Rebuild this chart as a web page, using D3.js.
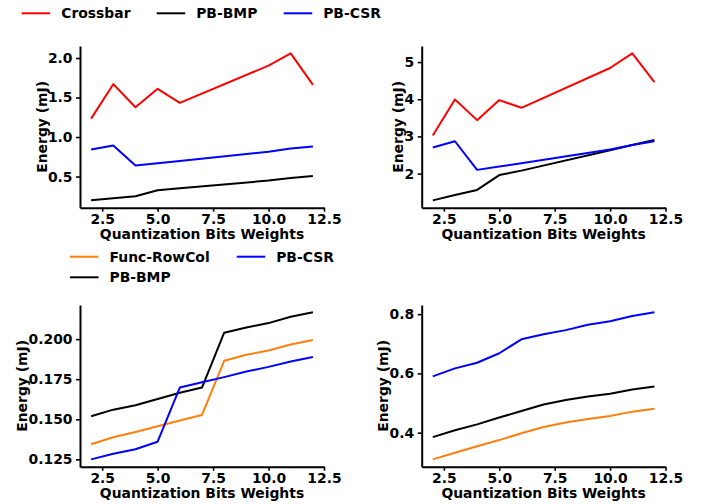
<!DOCTYPE html>
<html>
<head>
<meta charset="utf-8">
<script src="https://cdn.jsdelivr.net/npm/d3@7"></script>
<style>
  body { margin: 0; background: #fff; }
  svg { display: block; font-family: "DejaVu Sans", sans-serif; font-weight: bold; }
</style>
</head>
<body>
<script>
// Données
const bitsTop = [2, 3, 4, 5, 6, 10, 11, 12];
const bitsBottom = [2, 3, 4, 5, 6, 7, 8, 9, 10, 11, 12];

// haut gauche
const crossbarA = [1.233, 1.669, 1.377, 1.61, 1.432, 1.903, 2.059, 1.661];
const bmpA = [0.199, 0.225, 0.25, 0.326, 0.352, 0.449, 0.483, 0.508];
const csrA = [0.843, 0.894, 0.64, 0.669, 0.698, 0.814, 0.856, 0.881];

// haut droite
const crossbarB = [3.024, 3.995, 3.438, 3.977, 3.77, 4.84, 5.235, 4.462];
const bmpB = [1.28, 1.425, 1.56, 1.96, 2.08, 2.63, 2.77, 2.907];
const csrB = [2.70, 2.87, 2.10, 2.19, 2.28, 2.647, 2.77, 2.87];

// bas gauche
const rowcolC = [0.1344, 0.1388, 0.1421, 0.1456, 0.1492, 0.1527, 0.1865, 0.1902, 0.1929, 0.1967, 0.1994];
const bmpC = [0.1519, 0.156, 0.1588, 0.1627, 0.1665, 0.1698, 0.204, 0.2073, 0.210, 0.214, 0.2167];
const csrC = [0.125, 0.1285, 0.1313, 0.136, 0.1698, 0.1731, 0.1763, 0.1798, 0.1827, 0.186, 0.1888];

// bas droite
const rowcolD = [0.31, 0.332, 0.354, 0.375, 0.398, 0.419, 0.434, 0.446, 0.456, 0.471, 0.481];
const bmpD = [0.385, 0.408, 0.428, 0.451, 0.473, 0.495, 0.51, 0.522, 0.531, 0.546, 0.556];
const csrD = [0.590, 0.617, 0.636, 0.668, 0.715, 0.732, 0.746, 0.764, 0.776, 0.794, 0.806];

// ticks
const xTicks = [2.5, 5.0, 7.5, 10.0, 12.5];
const yTicksA = [0.5, 1.0, 1.5, 2.0];
const yTicksB = [2, 3, 4, 5];
const yTicksC = [0.125, 0.150, 0.175, 0.200];
const yTicksD = [0.4, 0.6, 0.8];

const legendTop = ["Crossbar", "PB-BMP", "PB-CSR"];
const legendBottom = ["Func-RowCol", "PB-CSR", "PB-BMP"];

const colors = {
  "Crossbar": "#ff0000",
  "PB-BMP": "#000000",
  "PB-CSR": "#0000ff",
  "Func-RowCol": "#ff7f0e"
};

const W = 702, H = 504;
const FS = 13.9;

const svg = d3.select("body").append("svg")
  .attr("width", W).attr("height", H);

// un panneau
function panel(box, xs, series, yTicks, yFmt) {
  const x = d3.scaleLinear().domain([1.5, 12.5]).range([box.x, box.x + box.w]);

  const all = series.flatMap(s => s.values);
  let lo = d3.min(all), hi = d3.max(all);
  const pad = (hi - lo) * 0.05;
  const y = d3.scaleLinear().domain([lo - pad, hi + pad]).range([box.y + box.h, box.y]);

  const g = svg.append("g");

  const line = d3.line()
    .x((d, i) => x(xs[i]))
    .y(d => y(d));

  series.forEach(s => {
    g.append("path")
      .datum(s.values)
      .attr("fill", "none")
      .attr("stroke", colors[s.name])
      .attr("stroke-width", 2)
      .attr("stroke-linejoin", "round")
      .attr("d", line);
  });

  // axe X
  const gx = g.append("g")
    .attr("transform", "translate(0," + (box.y + box.h) + ")")
    .call(d3.axisBottom(x).tickValues(xTicks).tickFormat(d3.format(".1f")).tickSize(4).tickPadding(2.5).tickSizeOuter(0));

  // axe Y
  const gy = g.append("g")
    .attr("transform", "translate(" + box.x + ",0)")
    .call(d3.axisLeft(y).tickValues(yTicks).tickFormat(d3.format(yFmt)).tickSize(4).tickPadding(3.5).tickSizeOuter(0));

  [gx, gy].forEach(a => {
    a.select(".domain").attr("stroke", "#000").attr("stroke-width", 2);
    a.selectAll(".tick line").attr("stroke", "#000").attr("stroke-width", 1.6);
    a.selectAll(".tick text")
      .attr("fill", "#000")
      .style("font-size", FS + "px")
      .style("font-family", "DejaVu Sans")
      .style("font-weight", "bold");
  });

  // labels
  g.append("text")
    .attr("x", box.x + box.w / 2)
    .attr("y", box.y + box.h + 31.5)
    .attr("text-anchor", "middle")
    .style("font-size", FS + "px")
    .text("Quantization Bits Weights");

  let minLeft = box.x;
  gy.selectAll(".tick text").each(function () {
    const b = this.getBBox();
    const left = box.x + b.x;
    if (left < minLeft) minLeft = left;
  });

  g.append("text")
    .attr("transform", "translate(" + (minLeft - 6) + "," + (box.y + box.h / 2) + ") rotate(-90)")
    .attr("dy", "0.35em")
    .attr("text-anchor", "middle")
    .style("font-size", FS + "px")
    .text("Energy (mJ)");
}

const ser = (names, vals) => names.map((n, i) => ({ name: n, values: vals[i] }));

panel({ x: 80, y: 46, w: 244, h: 161.7 }, bitsTop,
  ser(["Crossbar", "PB-BMP", "PB-CSR"], [crossbarA, bmpA, csrA]), yTicksA, ".1f");
panel({ x: 421.7, y: 46, w: 243.8, h: 161.7 }, bitsTop,
  ser(["Crossbar", "PB-BMP", "PB-CSR"], [crossbarB, bmpB, csrB]), yTicksB, "d");
panel({ x: 80, y: 305, w: 244, h: 161.7 }, bitsBottom,
  ser(["Func-RowCol", "PB-BMP", "PB-CSR"], [rowcolC, bmpC, csrC]), yTicksC, ".3f");
panel({ x: 421.7, y: 305, w: 243.8, h: 161.7 }, bitsBottom,
  ser(["Func-RowCol", "PB-BMP", "PB-CSR"], [rowcolD, bmpD, csrD]), yTicksD, ".1f");

// légendes
function legendItem(name, lx, ly) {
  svg.append("line")
    .attr("x1", lx).attr("x2", lx + 28.5)
    .attr("y1", ly).attr("y2", ly)
    .attr("stroke", colors[name]).attr("stroke-width", 2);
  svg.append("text")
    .attr("x", lx + 39.5).attr("y", ly)
    .attr("dy", "0.36em")
    .style("font-size", FS + "px")
    .text(name);
}

const legTopX = [21.7, 156.7, 283.7];
legendTop.forEach((n, i) => legendItem(n, legTopX[i], 13.3));

const legBotPos = [[70, 256.7], [236.7, 256.7], [70, 277.3]];
legendBottom.forEach((n, i) => legendItem(n, legBotPos[i][0], legBotPos[i][1]));
</script>
</body>
</html>
